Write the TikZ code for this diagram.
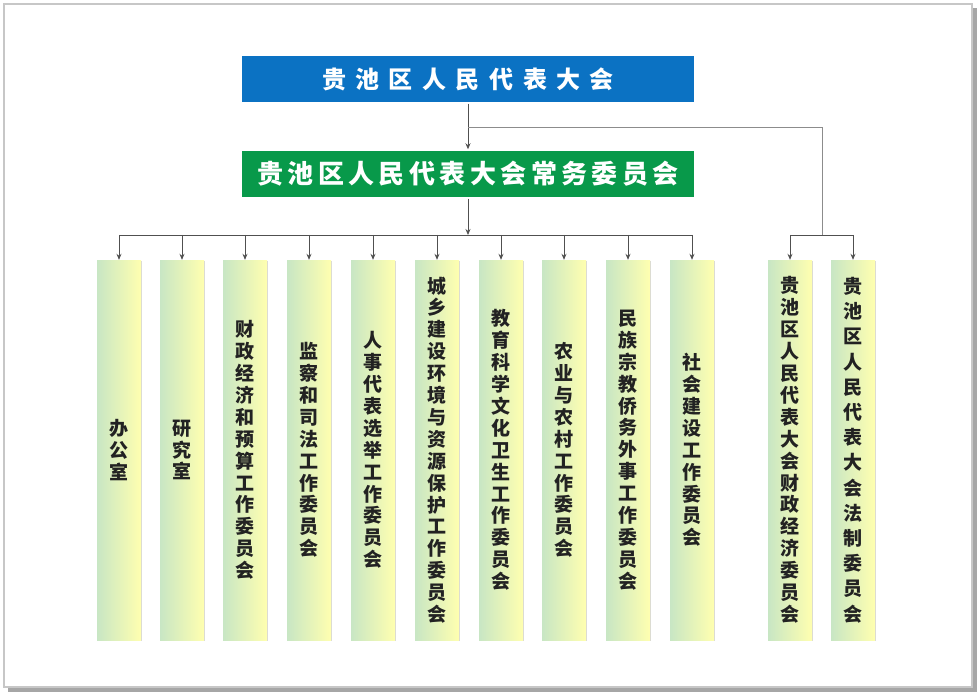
\documentclass[tikz,border=0pt]{standalone}
\usepackage{fontspec}
\newfontfamily\cjk{Noto Sans CJK SC}
\usetikzlibrary{shadows,arrows.meta}
\ExplSyntaxOn
\NewDocumentCommand\vtext{m}{
  \seq_clear:N \l_tmpa_seq
  \tl_map_inline:nn {#1} { \seq_put_right:Nn \l_tmpa_seq {##1} }
  \seq_use:Nn \l_tmpa_seq {\\}
}
\NewDocumentCommand\htext{mm}{
  \seq_clear:N \l_tmpb_seq
  \tl_map_inline:nn {#2} { \seq_put_right:Nn \l_tmpb_seq {##1} }
  \seq_use:Nn \l_tmpb_seq {\hspace{#1}}
}
\ExplSyntaxOff
\definecolor{topblue}{HTML}{0B72C3}
\definecolor{scgreen}{HTML}{08994A}
\definecolor{colgreen}{HTML}{C8E6C4}
\definecolor{colyellow}{HTML}{FFFFB0}
\definecolor{linegray}{HTML}{505050}
\definecolor{txt}{HTML}{222222}
\tikzset{
  headbox/.style={draw=white, line width=1.5pt, minimum width=454pt, minimum height=48pt,
    inner sep=0pt, text=white, font=\cjk\bfseries\fontsize{24}{28}\selectfont,
    drop shadow={shadow xshift=1pt, shadow yshift=-1.5pt, fill=black!25, opacity=0.6}},
  colbox/.style={left color=colgreen, right color=colyellow, minimum width=44pt,
    minimum height=380pt, inner sep=0pt, align=center, text=txt,
    font=\cjk\bfseries\fontsize{19}{21.9}\selectfont,
    drop shadow={shadow xshift=1.2pt, shadow yshift=-1.2pt, fill=black!30, opacity=0.5}},
  conn/.style={draw=linegray, line width=0.8pt},
  arr/.style={conn, -{Stealth[length=6pt,width=5pt]}},
}
\begin{document}
\begin{tikzpicture}[x=1pt,y=-1pt]
\useasboundingbox (0,0) rectangle (980,695);
% page frame
\fill[black!35] (8,8) rectangle (977,692);
\filldraw[fill=white, draw=black!22, line width=1.2pt] (4,4) rectangle (972,687);
% header boxes
\node[headbox, fill=topblue] (top) at (468,79) {\htext{9.5pt}{贵池区人民代表大会}};
\node[headbox, fill=scgreen, font=\cjk\bfseries\fontsize{26}{30}\selectfont] (sc) at (468,174) {\htext{4.4pt}{贵池区人民代表大会常务委员会}};
% columns
\node[colbox] (c1) at (119,450) {\vtext{办公室}};
\node[colbox] (c2) at (182,450) {\vtext{研究室}};
\node[colbox] (c3) at (245,450) {\vtext{财政经济和预算工作委员会}};
\node[colbox] (c4) at (309,450) {\vtext{监察和司法工作委员会}};
\node[colbox] (c5) at (373,450) {\vtext{人事代表选举工作委员会}};
\node[colbox] (c6) at (437,450) {\vtext{城乡建设环境与资源保护工作委员会}};
\node[colbox] (c7) at (501,450) {\vtext{教育科学文化卫生工作委员会}};
\node[colbox] (c8) at (564,450) {\vtext{农业与农村工作委员会}};
\node[colbox] (c9) at (628,450) {\vtext{民族宗教侨务外事工作委员会}};
\node[colbox] (c10) at (692,450) {\vtext{社会建设工作委员会}};
\node[colbox] (c11) at (790,450) {\vtext{贵池区人民代表大会财政经济委员会}};
\node[colbox, font=\cjk\bfseries\fontsize{19}{25.2}\selectfont] (c12) at (853,450) {\vtext{贵池区人民代表大会法制委员会}};
% connectors
\coordinate (b) at (468,127);
\coordinate (r) at (822,127);
\coordinate (j1) at (468,235);
\coordinate (j2) at (822,235);
\draw[arr] (top.south) -- (sc.north);
\draw[conn, draw=black!45] (b) -- (r) -- (j2);
\draw[arr] (sc.south) -- (j1);
\draw[conn] (c1.north |- j1) -- (c10.north |- j1);
\draw[conn] (c11.north |- j2) -- (c12.north |- j2);
\foreach \c in {c1,c2,c3,c4,c5,c6,c7,c8,c9,c10} {
  \draw[arr] (\c.north |- j1) -- (\c.north);
}
\foreach \c in {c11,c12} {
  \draw[arr] (\c.north |- j2) -- (\c.north);
}
\end{tikzpicture}
\end{document}
